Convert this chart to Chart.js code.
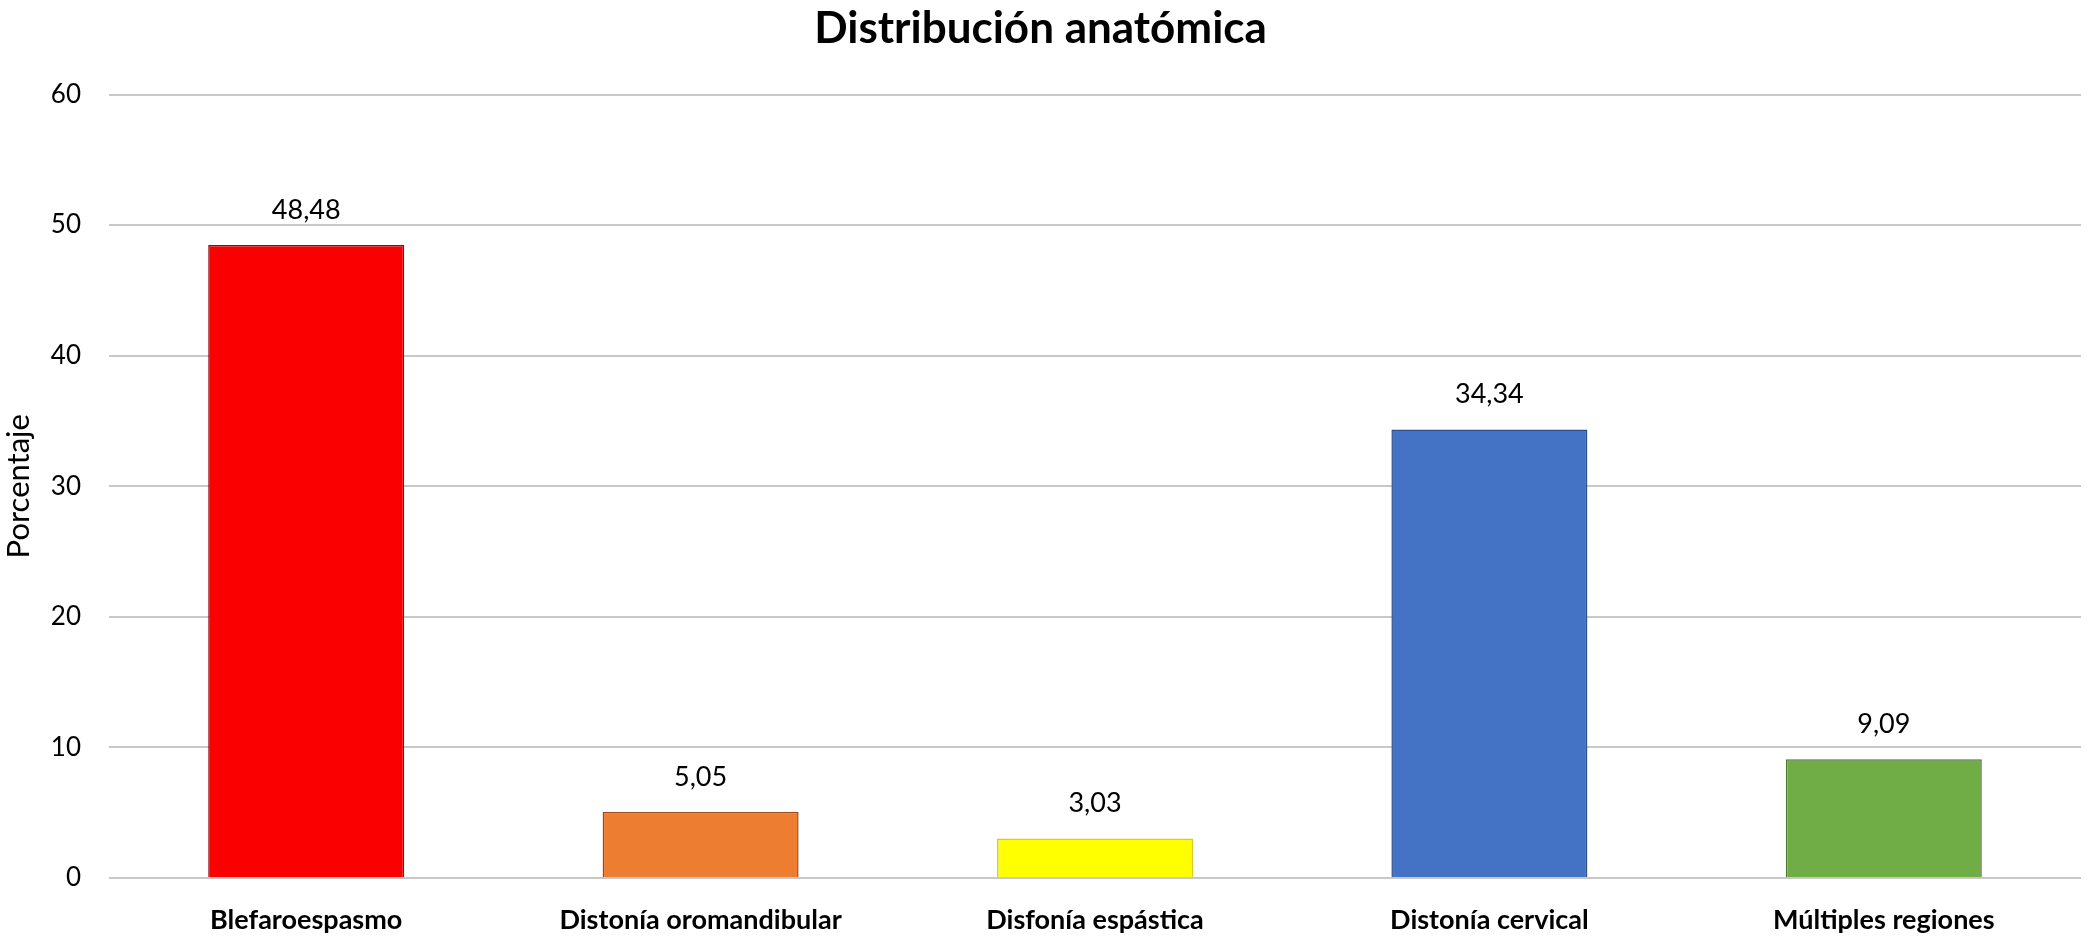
<!DOCTYPE html>
<html>
<head>
<meta charset="utf-8">
<script src="https://cdn.jsdelivr.net/npm/chart.js@4.4.0/dist/chart.umd.min.js"></script>
<style>
  html, body { margin: 0; padding: 0; background: #fff; }
  #wrap { width: 2091px; height: 936px; position: relative; }
</style>
</head>
<body>
<div id="wrap"><canvas id="chart"></canvas></div>
<script>
// Distribución anatómica — bar chart with value labels

const categories = ['Blefaroespasmo', 'Distonía oromandibular', 'Disfonía espástica', 'Distonía cervical', 'Múltiples regiones'];
const values = [48.48, 5.05, 3.03, 34.34, 9.09];
const valueLabels = ['48,48', '5,05', '3,03', '34,34', '9,09'];
const barColors = ['#fb0000', '#ed7d31', '#ffff00', '#4472c4', '#70ad47'];
const borderColors = ['#8a0f0f', '#9c4a1a', '#d8cc20', '#2f4f8a', '#4d7a30'];
const yTicks = [0, 10, 20, 30, 40, 50, 60];

const FONT = 'Lato, "Open Sans", sans-serif';

// draws the number above each bar
const valueLabelPlugin = {
  id: 'valueLabels',
  afterDatasetsDraw(chart) {
    const ctx = chart.ctx;
    const meta = chart.getDatasetMeta(0);
    ctx.save();
    ctx.font = '27px ' + FONT;
    ctx.fillStyle = '#000';
    ctx.textAlign = 'center';
    ctx.textBaseline = 'middle';
    meta.data.forEach((bar, i) => {
      ctx.fillText(valueLabels[i], bar.x, bar.y - 35);
    });
    ctx.restore();
  }
};

new Chart(document.getElementById('chart'), {
  type: 'bar',
  data: {
    labels: categories,
    datasets: [{
      data: values,
      backgroundColor: barColors,
      borderColor: borderColors,
      borderWidth: 1.5,
      categoryPercentage: 1,
      barPercentage: 0.497
    }]
  },
  options: {
    responsive: true,
    maintainAspectRatio: false,
    animation: false,
    layout: { padding: { left: 0, right: 10, top: 0, bottom: 0 } },
    plugins: {
      legend: { display: false },
      tooltip: { enabled: false },
      title: {
        display: true,
        text: 'Distribución anatómica',
        color: '#000',
        font: { family: FONT, size: 44, weight: 'bold', lineHeight: 1.2 },
        padding: { top: 2, bottom: 39.7 }
      }
    },
    scales: {
      x: {
        grid: { display: false, drawTicks: false },
        border: { display: false },
        ticks: {
          color: '#000',
          font: { family: FONT, size: 27, weight: 'bold' },
          padding: 26,
          maxRotation: 0,
          autoSkip: false
        },
        afterFit(scale) { scale.height = 58; }
      },
      y: {
        min: 0,
        max: 60,
        afterBuildTicks(scale) { scale.ticks = yTicks.map(v => ({ value: v })); },
        grid: { color: '#c8c8c8', lineWidth: 2, drawTicks: false },
        border: { display: false },
        ticks: {
          color: '#000',
          font: { family: FONT, size: 26 },
          padding: 28
        },
        title: {
          display: true,
          text: 'Porcentaje',
          color: '#000',
          font: { family: FONT, size: 31 },
          padding: 0
        },
        afterFit(scale) { scale.width = 109; }
      }
    }
  },
  plugins: [valueLabelPlugin]
});
</script>
</body>
</html>
